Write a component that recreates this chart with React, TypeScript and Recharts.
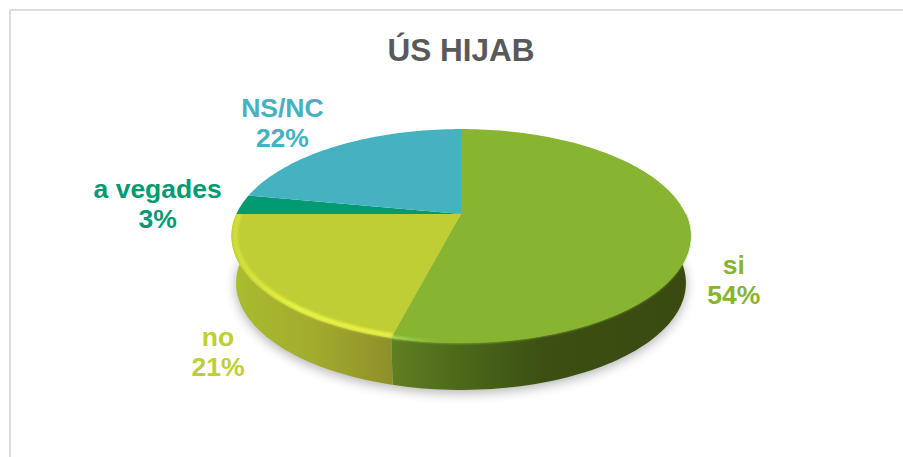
import React from "react";
import { PieChart, Pie } from "recharts";

const categories = ["si", "no", "a vegades", "NS/NC"];
const values = [54, 21, 3, 22];
const colors = ["#87B431", "#BFCE34", "#029A72", "#45B1C1"];
const labelColors = ["#87B431", "#BFCE34", "#029A72", "#45B1C1"];
const title = "ÚS HIJAB";

const tableData = categories.map((name, i) => ({ name, value: values[i] }));

// Perspective and extrusion settings
const PERSPECTIVE = 0.2056;
const FLATTEN = 0.456;
const DEPTH = 47;
const BOTTOM_SCALE = 0.98;
const RIM_INSET = [0.994, 0.985];
const RIM_WIDTH = [3, 5];
// Label centres relative to the slice's outer edge midpoint
const LABEL_SHIFT = [
  [44, 53],
  [-40, 66],
  [-84, -1],
  [-55, -23],
];

type P = { cx: number; cy: number; outerRadius: number; startAngle: number; endAngle: number; index?: number };

const project = (p: P, deg: number, radius = 1) => {
  const a = (deg * Math.PI) / 180;
  const u = Math.cos(a) * radius;
  const v = -Math.sin(a) * radius;
  const w = 1 - PERSPECTIVE * v;
  return {
    x: p.cx + (p.outerRadius * u) / w,
    y: p.cy + (p.outerRadius * FLATTEN * v) / w,
    v,
  };
};

const arc = (p: P, from: number, to: number, radius = 1) => {
  const steps = Math.max(6, Math.ceil(Math.abs(to - from) / 1.5));
  const pts = [];
  for (let i = 0; i <= steps; i++) pts.push(project(p, from + ((to - from) * i) / steps, radius));
  return pts;
};

const toPath = (pts: { x: number; y: number }[]) =>
  pts.map((q, i) => `${i ? "L" : "M"}${q.x.toFixed(2)} ${q.y.toFixed(2)}`).join(" ");

const lower = (p: P, q: { x: number; y: number }) => ({
  x: p.cx + (q.x - p.cx) * BOTTOM_SCALE,
  y: q.y + DEPTH,
});

// only the part of a slice on the front half of the pie has a visible side
const frontRange = (p: P): [number, number] | null => {
  const a = Math.min(p.startAngle, 0);
  const b = Math.max(p.endAngle, -180);
  return a > b ? [a, b] : null;
};

const SideShape = (props: any) => {
  const range = frontRange(props);
  if (!range) return <g />;
  const top = arc(props, range[0], range[1]);
  const bottom = top.map((q) => lower(props, q)).reverse();
  const idx = props.startAngle > -50 ? 0 : 1;
  return <path d={`${toPath(top)} ${toPath(bottom).replace("M", "L")} Z`} fill={`url(#side${idx})`} stroke="none" />;
};

const ShadowShape = (props: any) => {
  const range = frontRange(props);
  if (!range) return <g />;
  const top = arc(props, range[0], range[1]).map((q) => lower(props, q));
  const pts = top.map((q) => ({ x: q.x, y: q.y + 3 }));
  return <path d={`M${props.cx} ${props.cy} ${toPath(pts).replace("M", "L")} Z`} fill="#000" opacity={0.3} filter="url(#soft)" stroke="none" />;
};

const TopShape = (props: any) => {
  const pts = arc(props, props.startAngle, props.endAngle);
  const range = frontRange(props);
  const idx = props.startAngle > -50 ? 0 : 1;
  return (
    <g>
      <path d={`M${props.cx} ${props.cy} ${toPath(pts).replace("M", "L")} Z`} fill={props.fill} stroke="none" />
      {range && (
        <path d={toPath(arc(props, range[0], range[1], RIM_INSET[idx]))} fill="none" stroke={`url(#rim${idx})`} strokeWidth={RIM_WIDTH[idx]} filter="url(#rimBlur)" />
      )}
    </g>
  );
};

const renderLabel = (props: any) => {
  const i = props.index;
  const edge = project(props, props.midAngle);
  const x = edge.x + LABEL_SHIFT[i][0];
  const y = edge.y + LABEL_SHIFT[i][1];
  return (
    <text key={i} x={x} y={y} textAnchor="middle" fontFamily="'Liberation Sans', Arial, sans-serif" fontWeight={700} fontSize={26.5} fill={labelColors[i]}>
      <tspan x={x} dy={-6}>{categories[i]}</tspan>
      <tspan x={x} dy={30}>{`${values[i]}%`}</tspan>
    </text>
  );
};

const shared = {
  data: tableData.map((d, i) => ({ ...d, fill: colors[i] })),
  dataKey: "value",
  nameKey: "name",
  cx: 461,
  cy: 214,
  outerRadius: 224.6,
  startAngle: 90,
  endAngle: -270,
  isAnimationActive: false,
  stroke: "none",
};

export default function App() {
  return (
    <div style={{ position: "absolute", left: 0, top: 0, width: 903, height: 457, background: "#fff", overflow: "hidden" }}>
      <div style={{ position: "absolute", left: 9, top: 9, width: 900, height: 460, borderTop: "2px solid #DDDDDD", borderLeft: "2px solid #DDDDDD" }} />
      <PieChart width={903} height={457} margin={{ top: 0, right: 0, bottom: 0, left: 0 }} style={{ position: "absolute", left: 0, top: 0 }}>
        <defs>
          <filter id="soft" x="-20%" y="-20%" width="140%" height="150%">
            <feGaussianBlur stdDeviation="6" />
          </filter>
          <filter id="rimBlur" x="-5%" y="-20%" width="110%" height="140%">
            <feGaussianBlur stdDeviation="1.2" />
          </filter>
          <linearGradient id="side0" gradientUnits="userSpaceOnUse" x1="393" y1="0" x2="691" y2="0">
            <stop offset="0" stopColor="#5F7F20" />
            <stop offset="0.2" stopColor="#4E6B1A" />
            <stop offset="0.5" stopColor="#3C5013" />
            <stop offset="1" stopColor="#394A10" />
          </linearGradient>
          <linearGradient id="side1" gradientUnits="userSpaceOnUse" x1="233" y1="0" x2="393" y2="0">
            <stop offset="0" stopColor="#AABC2E" />
            <stop offset="0.5" stopColor="#A2AC2D" />
            <stop offset="1" stopColor="#8E8F2A" />
          </linearGradient>
          <linearGradient id="rim0" gradientUnits="userSpaceOnUse" x1="393" y1="0" x2="691" y2="0">
            <stop offset="0" stopColor="#A9D858" />
            <stop offset="0.15" stopColor="#87B431" />
            <stop offset="1" stopColor="#87B431" />
          </linearGradient>
          <linearGradient id="rim1" gradientUnits="userSpaceOnUse" x1="233" y1="0" x2="393" y2="0">
            <stop offset="0" stopColor="#CFDD38" />
            <stop offset="0.4" stopColor="#E8F244" />
            <stop offset="1" stopColor="#E4EE44" />
          </linearGradient>
        </defs>
        <Pie {...shared} shape={ShadowShape} label={false} />
        <Pie {...shared} shape={SideShape} label={false} />
        <Pie {...shared} shape={TopShape} label={renderLabel} labelLine={false} />
        <text x={461} y={61} textAnchor="middle" fontFamily="'Liberation Sans', Arial, sans-serif" fontWeight={700} fontSize={31.5} fill="#595959">
          {title}
        </text>
      </PieChart>
    </div>
  );
}
